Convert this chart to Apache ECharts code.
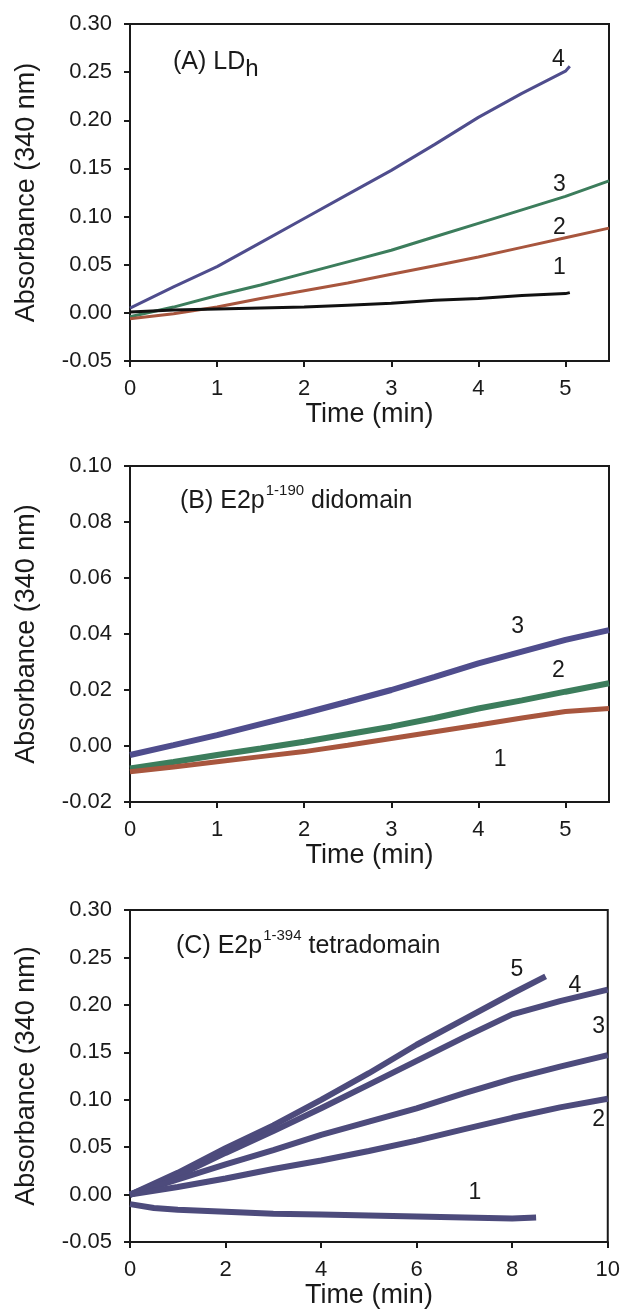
<!DOCTYPE html>
<html>
<head>
<meta charset="utf-8">
<script src="https://cdn.jsdelivr.net/npm/echarts@6/dist/echarts.min.js"></script>
<style>
html,body{margin:0;padding:0;background:#fff;}
#chart{width:623px;height:1310px;}
</style>
</head>
<body>
<div id="chart"></div>
<script>
// ---------- Panel A: LDh ----------
const timeA = [0, 0.5, 1, 1.5, 2, 2.5, 3, 3.5, 4, 4.5, 5, 5.5];
const timeAshort = [0, 0.5, 1, 1.5, 2, 2.5, 3, 3.5, 4, 4.5, 5, 5.05];
const absA1 = [0.001, 0.003, 0.004, 0.005, 0.006, 0.008, 0.010, 0.013, 0.015, 0.018, 0.020, 0.021];
const absA2 = [-0.006, -0.001, 0.006, 0.015, 0.023, 0.031, 0.040, 0.049, 0.058, 0.068, 0.078, 0.088];
const absA3 = [-0.004, 0.006, 0.018, 0.029, 0.041, 0.053, 0.065, 0.079, 0.093, 0.107, 0.121, 0.137];
const absA4 = [0.005, 0.027, 0.048, 0.073, 0.098, 0.123, 0.148, 0.175, 0.203, 0.228, 0.251, 0.256];
const labelsA = [['4', 4.92, 0.263], ['3', 4.93, 0.133], ['2', 4.93, 0.088], ['1', 4.93, 0.047]];

// ---------- Panel B: E2p 1-190 didomain ----------
const timeB = [0, 0.5, 1, 1.5, 2, 2.5, 3, 3.5, 4, 4.5, 5, 5.5];
const absB1 = [-0.0092, -0.0075, -0.0056, -0.0038, -0.0020, 0.0003, 0.0027, 0.0051, 0.0075, 0.0100, 0.0123, 0.0134];
const absB2 = [-0.0080, -0.0057, -0.0032, -0.0009, 0.0015, 0.0042, 0.0069, 0.0100, 0.0134, 0.0163, 0.0194, 0.0224];
const absB3 = [-0.0032, 0.0003, 0.0039, 0.0078, 0.0117, 0.0158, 0.0200, 0.0247, 0.0295, 0.0337, 0.0379, 0.0414];
const labelsB = [['3', 4.45, 0.0425], ['2', 4.92, 0.027], ['1', 4.25, -0.005]];

// ---------- Panel C: E2p 1-394 tetradomain ----------
const timeC = [0, 1, 2, 3, 4, 5, 6, 7, 8, 9, 10];
const timeC1 = [0, 0.5, 1, 2, 3, 4, 5, 6, 7, 8, 8.5];
const timeC5 = [0, 1, 2, 3, 4, 5, 6, 7, 8, 8.7];
const absC1 = [-0.010, -0.014, -0.016, -0.018, -0.020, -0.021, -0.022, -0.023, -0.024, -0.025, -0.024];
const absC2 = [0.000, 0.008, 0.017, 0.027, 0.036, 0.046, 0.057, 0.069, 0.081, 0.092, 0.101];
const absC3 = [0.000, 0.016, 0.032, 0.047, 0.063, 0.077, 0.091, 0.107, 0.122, 0.135, 0.147];
const absC4 = [0.000, 0.020, 0.044, 0.067, 0.091, 0.116, 0.141, 0.166, 0.190, 0.204, 0.216];
const absC5 = [0.000, 0.023, 0.049, 0.073, 0.100, 0.128, 0.158, 0.185, 0.212, 0.230];
const labelsC = [['5', 8.1, 0.237], ['4', 9.31, 0.22], ['3', 9.81, 0.177], ['2', 9.81, 0.079], ['1', 7.22, 0.002]];

// axis settings
const yTicksA = {min: -0.05, max: 0.30, interval: 0.05};
const yTicksB = {min: -0.02, max: 0.10, interval: 0.02};
const yTicksC = {min: -0.05, max: 0.30, interval: 0.05};
const xTicksA = {min: 0, max: 5.5, interval: 1};
const xTicksB = {min: 0, max: 5.5, interval: 1};
const xTicksC = {min: 0, max: 10, interval: 2};

const FONT = '"Liberation Sans", Arial, sans-serif';
const INK = '#1a1a1a';
const PURPLE = '#4f4d8d', GREEN = '#3c7d5c', RED = '#a8563e', BLACK = '#111111', SLATE = '#4d4b7c';

function zip(xs, ys) { return xs.map((x, i) => [x, ys[i]]); }

function xAxis(idx, t) {
  return {
    type: 'value', gridIndex: idx, min: t.min, max: t.max, interval: t.interval,
    name: 'Time (min)', nameLocation: 'middle', nameGap: 38,
    nameTextStyle: {fontFamily: FONT, fontSize: 27, color: INK},
    axisLine: {show: true, onZero: false, lineStyle: {color: INK, width: 2}},
    axisTick: {show: true, inside: false, length: 6, lineStyle: {color: INK, width: 2}},
    axisLabel: {fontFamily: FONT, fontSize: 22, color: INK, margin: 17, showMaxLabel: t.max % t.interval === 0,
      formatter: v => String(Math.round(v))},
    splitLine: {show: false}
  };
}
function yAxis(idx, t) {
  return {
    type: 'value', gridIndex: idx, min: t.min, max: t.max, interval: t.interval,
    name: 'Absorbance (340 nm)', nameLocation: 'middle', nameGap: 90, nameRotate: 90,
    nameTextStyle: {fontFamily: FONT, fontSize: 27, color: INK},
    axisLine: {show: true, onZero: false, lineStyle: {color: INK, width: 2}},
    axisTick: {show: true, inside: false, length: 6, lineStyle: {color: INK, width: 2}},
    axisLabel: {fontFamily: FONT, fontSize: 22, color: INK, margin: 18,
      formatter: v => v.toFixed(2)},
    splitLine: {show: false}
  };
}
function line(idx, xs, ys, color, width) {
  return {type: 'line', xAxisIndex: idx, yAxisIndex: idx, data: zip(xs, ys),
    showSymbol: false, symbol: 'none', lineStyle: {color: color, width: width}, silent: true};
}
function labels(idx, arr) {
  return {type: 'scatter', xAxisIndex: idx, yAxisIndex: idx, symbolSize: 0, silent: true,
    itemStyle: {color: INK, opacity: 1},
    data: arr.map(a => ({value: [a[1], a[2]], name: a[0]})),
    label: {show: true, position: 'inside', formatter: p => p.name, fontFamily: FONT, fontSize: 23,
      color: INK, textBorderWidth: 0, textBorderColor: 'transparent', fontWeight: 'normal', opacity: 1},
    z: 10};
}

const gridStyle = {show: true, borderColor: INK, borderWidth: 2, containLabel: false};
const mainStyle = {fontFamily: FONT, fontSize: 25, color: INK, fontWeight: 'normal', lineHeight: 30};

const option = {
  animation: false,
  backgroundColor: '#ffffff',
  grid: [
    Object.assign({left: 130, top: 24, width: 479, height: 337}, gridStyle),
    Object.assign({left: 130, top: 466, width: 479, height: 336}, gridStyle),
    Object.assign({left: 130, top: 910, width: 479, height: 335}, gridStyle)
  ],
  title: [
    {left: 173, top: 47, padding: 0, text: '{m|(A) LD}{s|h}',
      textStyle: {fontWeight: 'normal', rich: {
        m: mainStyle,
        s: {fontFamily: FONT, fontSize: 24, color: INK, fontWeight: 'normal', lineHeight: 30, padding: [14, 0, 0, 0]}
      }}},
    {left: 180, top: 486, padding: 0, text: '{m|(B) E2p}{p|1-190}{m| didomain}',
      textStyle: {fontWeight: 'normal', rich: {
        m: mainStyle,
        p: {fontFamily: FONT, fontSize: 15, color: INK, fontWeight: 'normal', lineHeight: 18, padding: [0, 0, 20, 1]}
      }}},
    {left: 176, top: 931, padding: 0, text: '{m|(C) E2p}{p|1-394}{m| tetradomain}',
      textStyle: {fontWeight: 'normal', rich: {
        m: mainStyle,
        p: {fontFamily: FONT, fontSize: 15, color: INK, fontWeight: 'normal', lineHeight: 18, padding: [0, 0, 20, 1]}
      }}}
  ],
  xAxis: [xAxis(0, xTicksA), xAxis(1, xTicksB), xAxis(2, xTicksC)],
  yAxis: [yAxis(0, yTicksA), yAxis(1, yTicksB), yAxis(2, yTicksC)],
  series: [
    line(0, timeAshort, absA4, PURPLE, 3),
    line(0, timeA, absA3, GREEN, 3),
    line(0, timeA, absA2, RED, 3),
    line(0, timeAshort, absA1, BLACK, 3),
    labels(0, labelsA),

    line(1, timeB, absB3, PURPLE, 6),
    line(1, timeB, absB2, GREEN, 6),
    line(1, timeB, absB1, RED, 5),
    labels(1, labelsB),

    line(2, timeC5, absC5, SLATE, 6),
    line(2, timeC, absC4, SLATE, 6),
    line(2, timeC, absC3, SLATE, 6),
    line(2, timeC, absC2, SLATE, 6),
    line(2, timeC1, absC1, SLATE, 6),
    labels(2, labelsC)
  ]
};

const chart = echarts.init(document.getElementById('chart'), null, {renderer: 'canvas'});
chart.setOption(option);
</script>
</body>
</html>
